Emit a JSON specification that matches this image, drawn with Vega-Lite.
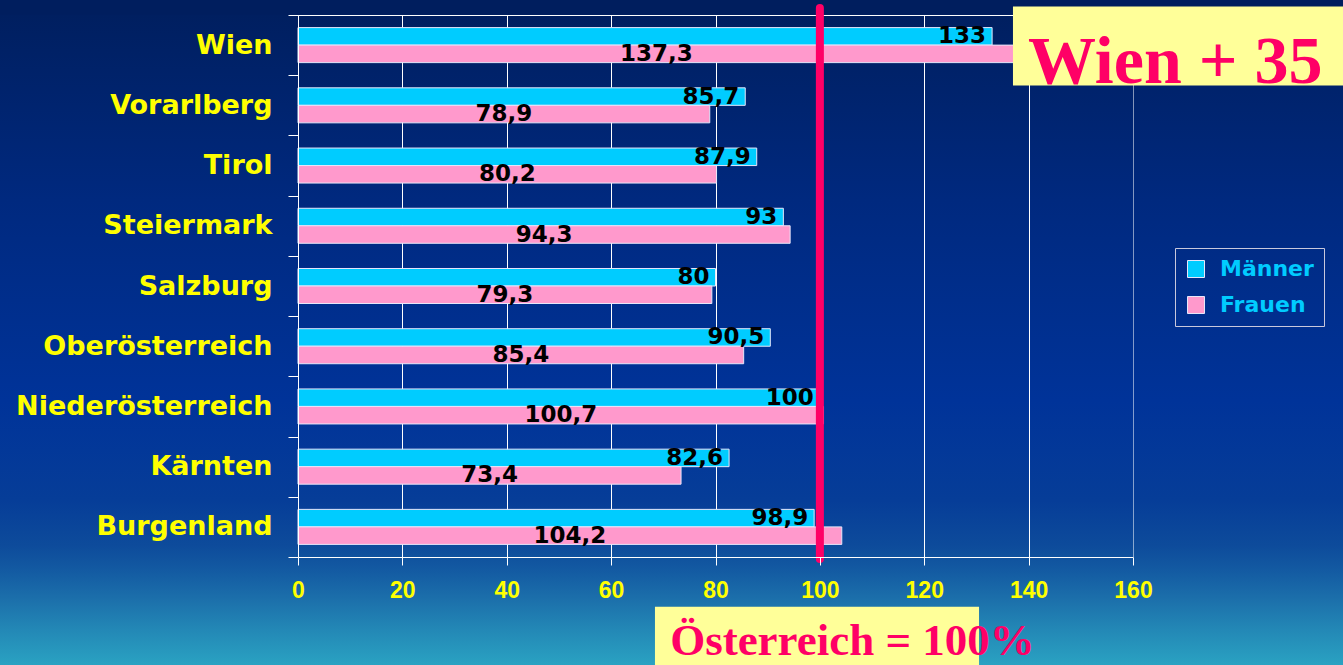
{
  "$schema": "https://vega.github.io/schema/vega-lite/v6.json",
  "width": 835,
  "height": 542,
  "autosize": {"type": "none"},
  "padding": {"left": 298, "top": 15, "right": 210, "bottom": 108},
  "background": "#002060",
  "config": {
    "view": {
      "stroke": "#ffffff",
      "strokeWidth": 1,
      "fill": {"gradient": "linear", "x1": 0, "y1": 0, "x2": 0, "y2": 1, "stops": [
        {"offset": 0, "color": "#001f60"},
        {"offset": 0.341, "color": "#00297f"},
        {"offset": 0.71, "color": "#003399"},
        {"offset": 0.895, "color": "#063d98"},
        {"offset": 0.978, "color": "#0d4b9b"},
        {"offset": 1, "color": "#10529e"}
      ]}
    },
    "locale": {"number": {"decimal": ",", "thousands": ".", "grouping": [3], "currency": ["", " €"]}},
    "axis": {"title": null}
  },
  "data": {"values": [
    {"region": "Wien", "series": "Männer", "value": 133},
    {"region": "Wien", "series": "Frauen", "value": 137.3},
    {"region": "Vorarlberg", "series": "Männer", "value": 85.7},
    {"region": "Vorarlberg", "series": "Frauen", "value": 78.9},
    {"region": "Tirol", "series": "Männer", "value": 87.9},
    {"region": "Tirol", "series": "Frauen", "value": 80.2},
    {"region": "Steiermark", "series": "Männer", "value": 93},
    {"region": "Steiermark", "series": "Frauen", "value": 94.3},
    {"region": "Salzburg", "series": "Männer", "value": 80},
    {"region": "Salzburg", "series": "Frauen", "value": 79.3},
    {"region": "Oberösterreich", "series": "Männer", "value": 90.5},
    {"region": "Oberösterreich", "series": "Frauen", "value": 85.4},
    {"region": "Niederösterreich", "series": "Männer", "value": 100},
    {"region": "Niederösterreich", "series": "Frauen", "value": 100.7},
    {"region": "Kärnten", "series": "Männer", "value": 82.6},
    {"region": "Kärnten", "series": "Frauen", "value": 73.4},
    {"region": "Burgenland", "series": "Männer", "value": 98.9},
    {"region": "Burgenland", "series": "Frauen", "value": 104.2}
  ]},
  "resolve": {"scale": {"x": "independent"}},
  "layer": [
    {
      "layer": [
        {
          "data": {"values": [{}]},
          "mark": {"type": "rect", "strokeWidth": 0, "color": {"gradient": "linear", "x1": 0, "y1": 0, "x2": 0, "y2": 1, "stops": [
            {"offset": 0, "color": "#001d5c"},
            {"offset": 0.0226, "color": "#001f60"},
            {"offset": 0.301, "color": "#00297f"},
            {"offset": 0.602, "color": "#003399"},
            {"offset": 0.752, "color": "#063d98"},
            {"offset": 0.82, "color": "#0d4b9b"},
            {"offset": 0.857, "color": "#135aa2"},
            {"offset": 0.902, "color": "#1c70ab"},
            {"offset": 0.947, "color": "#2388b6"},
            {"offset": 1, "color": "#2aa2c2"}
          ]}},
          "encoding": {
            "x": {"datum": -57.2, "type": "quantitative"},
            "x2": {"datum": 0},
            "y": {"datum": "Wien", "type": "nominal", "bandPosition": -0.24908},
            "y2": {"datum": "Burgenland", "bandPosition": 2.7933}
          }
        },
        {
          "data": {"values": [{}]},
          "mark": {"type": "rect", "strokeWidth": 0, "color": {"gradient": "linear", "x1": 0, "y1": 0, "x2": 0, "y2": 1, "stops": [
            {"offset": 0, "color": "#001d5c"},
            {"offset": 0.0226, "color": "#001f60"},
            {"offset": 0.301, "color": "#00297f"},
            {"offset": 0.602, "color": "#003399"},
            {"offset": 0.752, "color": "#063d98"},
            {"offset": 0.82, "color": "#0d4b9b"},
            {"offset": 0.857, "color": "#135aa2"},
            {"offset": 0.902, "color": "#1c70ab"},
            {"offset": 0.947, "color": "#2388b6"},
            {"offset": 1, "color": "#2aa2c2"}
          ]}},
          "encoding": {
            "x": {"datum": 160.1, "type": "quantitative"},
            "x2": {"datum": 201},
            "y": {"datum": "Wien", "type": "nominal", "bandPosition": -0.24908},
            "y2": {"datum": "Burgenland", "bandPosition": 2.7933}
          }
        },
        {
          "data": {"values": [{}]},
          "mark": {"type": "rect", "strokeWidth": 0, "color": "#001e5e"},
          "encoding": {
            "x": {"datum": -57.2, "type": "quantitative"},
            "x2": {"datum": 201},
            "y": {"datum": "Wien", "type": "nominal", "bandPosition": -0.24908},
            "y2": {"datum": "Wien", "bandPosition": -0.009}
          }
        },
        {
          "data": {"values": [{}]},
          "mark": {"type": "rect", "strokeWidth": 0, "color": {"gradient": "linear", "x1": 0, "y1": 0, "x2": 0, "y2": 1, "stops": [
            {"offset": 0, "color": "#10529e"},
            {"offset": 0.12, "color": "#135aa2"},
            {"offset": 0.398, "color": "#1c70ab"},
            {"offset": 0.676, "color": "#2388b6"},
            {"offset": 1, "color": "#2aa2c2"}
          ]}},
          "encoding": {
            "x": {"datum": -57.2, "type": "quantitative"},
            "x2": {"datum": 201},
            "y": {"datum": "Burgenland", "type": "nominal", "bandPosition": 0.999},
            "y2": {"datum": "Burgenland", "bandPosition": 2.7933}
          }
        },
        {
          "mark": {"type": "bar", "stroke": "#e6e6fa", "strokeWidth": 1},
          "encoding": {
            "y": {
              "field": "region", "type": "nominal",
              "scale": {"domain": ["Wien", "Vorarlberg", "Tirol", "Steiermark", "Salzburg", "Oberösterreich", "Niederösterreich", "Kärnten", "Burgenland"], "paddingInner": 0, "paddingOuter": 0},
              "axis": {"title": null, "tickBand": "extent", "grid": false, "domainColor": "#ffffff", "tickColor": "#ffffff", "tickSize": 10, "labelColor": "#ffff00", "labelFont": "DejaVu Sans", "labelFontWeight": "bold", "labelFontSize": 27, "labelPadding": 16, "labelLimit": 400, "zindex": 1}
            },
            "yOffset": {"field": "series", "type": "nominal", "scale": {"domain": ["Männer", "Frauen"], "paddingInner": 0, "paddingOuter": 0.72}},
            "x": {
              "field": "value", "type": "quantitative",
              "scale": {"domain": [0, 160], "nice": false, "zero": true},
              "axis": {"title": null, "values": [0, 20, 40, 60, 80, 100, 120, 140, 160], "format": "d", "grid": false, "labelFlush": false, "domainColor": "#ffffff", "tickColor": "#ffffff", "tickSize": 8, "labelColor": "#ffff00", "labelFont": "Liberation Sans", "labelFontWeight": "bold", "labelFontSize": 23, "labelPadding": 14, "zindex": 1}
            },
            "color": {
              "field": "series", "type": "nominal",
              "scale": {"domain": ["Männer", "Frauen"], "range": ["#00ccff", "#ff99cc"]},
              "legend": {"title": null, "orient": "none", "legendX": 877, "legendY": 233, "direction": "vertical", "symbolType": "square", "symbolSize": 289, "symbolStrokeColor": "#e6e6fa", "symbolStrokeWidth": 1, "labelColor": "#00ccff", "labelFont": "DejaVu Sans", "labelFontWeight": "bold", "labelFontSize": 22, "labelOffset": 13, "rowPadding": 14, "padding": 10, "strokeColor": "#c8c8dc"}
            }
          }
        },
        {
          "transform": [{"filter": "datum.series === 'Männer'"}],
          "mark": {"type": "text", "align": "right", "baseline": "middle", "dx": -6, "font": "DejaVu Sans", "fontWeight": "bold", "fontSize": 23, "color": "#000000"},
          "encoding": {
            "y": {"field": "region", "type": "nominal"},
            "yOffset": {"field": "series", "type": "nominal"},
            "x": {"field": "value", "type": "quantitative"},
            "text": {"field": "value", "type": "quantitative", "format": ".4~r"}
          }
        },
        {
          "data": {"values": [{}]},
          "mark": {"type": "rule", "color": "#ff0066", "strokeWidth": 8, "strokeCap": "round"},
          "encoding": {
            "x": {"datum": 100, "type": "quantitative"},
            "y": {"datum": "Wien", "type": "nominal", "bandPosition": -0.116},
            "y2": {"datum": "Burgenland", "bandPosition": 1.033}
          }
        },
        {
          "data": {"values": [{}]},
          "mark": {"type": "rect", "color": "#ffff99", "strokeWidth": 0},
          "encoding": {
            "x": {"datum": 137, "type": "quantitative"},
            "x2": {"datum": 201},
            "y": {"datum": "Wien", "type": "nominal", "bandPosition": -0.141},
            "y2": {"datum": "Wien", "bandPosition": 1.171}
          }
        },
        {
          "data": {"values": [{}]},
          "mark": {"type": "text", "text": "Wien + 35", "font": "Liberation Serif", "fontWeight": "bold", "fontSize": 68, "color": "#ff0066", "align": "center", "baseline": "alphabetic"},
          "encoding": {
            "x": {"datum": 168.1, "type": "quantitative"},
            "y": {"datum": "Wien", "type": "nominal", "bandPosition": 1.129}
          }
        },
        {
          "data": {"values": [{}]},
          "mark": {"type": "rect", "color": "#ffff99", "strokeWidth": 0},
          "encoding": {
            "x": {"datum": 68.4, "type": "quantitative"},
            "x2": {"datum": 130.5},
            "y": {"datum": "Burgenland", "type": "nominal", "bandPosition": 1.825},
            "y2": {"datum": "Burgenland", "bandPosition": 2.9}
          }
        },
        {
          "data": {"values": [{}]},
          "mark": {"type": "text", "text": "Österreich = 100%", "font": "Liberation Serif", "fontWeight": "bold", "fontSize": 45, "color": "#ff0066", "align": "center", "baseline": "alphabetic"},
          "encoding": {
            "x": {"datum": 106.25, "type": "quantitative"},
            "y": {"datum": "Burgenland", "type": "nominal", "bandPosition": 2.62}
          }
        }
      ]
    },
    {
      "transform": [{"filter": "datum.series === 'Frauen'"}],
      "mark": {"type": "text", "align": "center", "baseline": "middle", "font": "DejaVu Sans", "fontWeight": "bold", "fontSize": 23, "color": "#000000"},
      "encoding": {
        "y": {"field": "region", "type": "nominal"},
        "yOffset": {"field": "series", "type": "nominal"},
        "x": {
          "field": "value", "type": "quantitative",
          "scale": {"domain": [0, 320], "nice": false, "zero": true},
          "axis": {"orient": "top", "title": null, "grid": true, "gridColor": "#ffffff", "values": [0, 40, 80, 120, 160, 200, 240, 280, 320], "labels": false, "ticks": false, "domain": false, "zindex": 0}
        },
        "text": {"field": "value", "type": "quantitative", "format": ".4~r"}
      }
    }
  ]
}
